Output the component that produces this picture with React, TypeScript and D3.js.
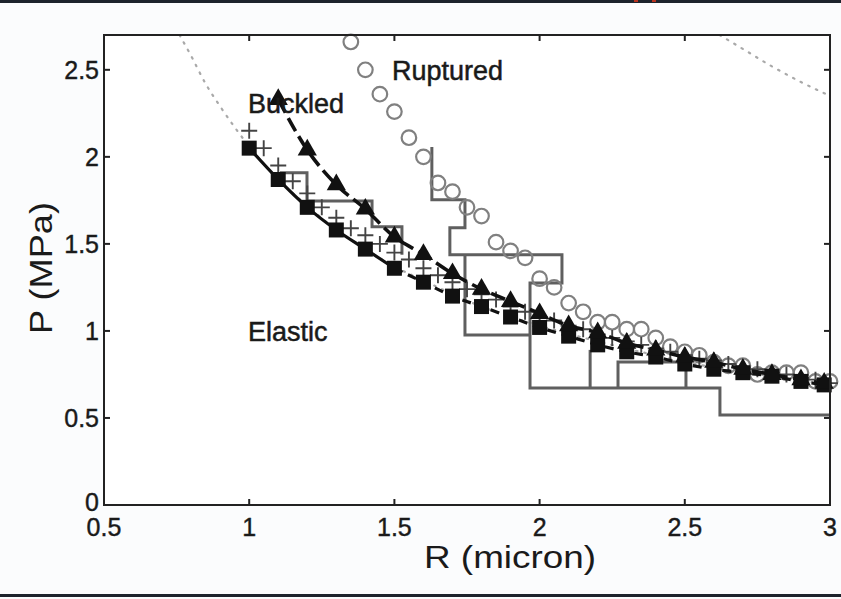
import React, { useEffect, useRef } from 'react';
import * as d3 from 'd3';

// theory curves (dotted grey)
const elasticR = [0.76, 0.8, 0.85, 0.9, 0.95, 1.0, 1.1, 1.2, 1.3, 1.4, 1.5, 1.6, 1.8, 2.0, 2.2, 2.4, 2.6, 2.8, 3.0];
const elasticP = [2.7, 2.58, 2.42, 2.29, 2.17, 2.06, 1.87, 1.72, 1.58, 1.47, 1.37, 1.29, 1.14, 1.03, 0.94, 0.86, 0.79, 0.74, 0.69];
const ruptureR = [2.62, 2.7, 2.8, 2.9, 3.0];
const ruptureP = [2.7, 2.62, 2.52, 2.43, 2.35];

// filled squares
const squareR = [1.0, 1.1, 1.2, 1.3, 1.4, 1.5, 1.6, 1.7, 1.8, 1.9, 2.0, 2.1, 2.2, 2.3, 2.4, 2.5, 2.6, 2.7, 2.8, 2.9, 2.98];
const squareP = [2.05, 1.87, 1.71, 1.58, 1.47, 1.36, 1.28, 1.2, 1.14, 1.08, 1.02, 0.97, 0.92, 0.88, 0.85, 0.81, 0.78, 0.76, 0.74, 0.71, 0.69];
const squareSolidUntil = 1.55;

// filled triangles
const triR = [1.1, 1.2, 1.3, 1.4, 1.5, 1.6, 1.7, 1.8, 1.9, 2.0, 2.1, 2.2, 2.3, 2.4, 2.5, 2.6, 2.7, 2.8, 2.9, 2.98];
const triP = [2.33, 2.04, 1.84, 1.7, 1.54, 1.44, 1.33, 1.24, 1.17, 1.1, 1.03, 0.99, 0.93, 0.89, 0.85, 0.82, 0.78, 0.75, 0.72, 0.7];

// plus markers
const plusR = [1.0, 1.05, 1.1, 1.15, 1.2, 1.25, 1.3, 1.35, 1.4, 1.45, 1.5, 1.55, 1.6, 1.65, 1.7, 1.75, 1.8, 1.85, 1.9, 1.95, 2.0,
  2.05, 2.1, 2.15, 2.2, 2.25, 2.3, 2.35, 2.4, 2.45, 2.5, 2.55, 2.6, 2.65, 2.7, 2.75, 2.8, 2.85, 2.9, 2.95, 3.0];
const plusP = [2.15, 2.05, 1.95, 1.86, 1.79, 1.71, 1.65, 1.59, 1.55, 1.5, 1.45, 1.41, 1.36, 1.32, 1.28, 1.24, 1.21, 1.18, 1.14, 1.11, 1.08,
  1.06, 1.03, 1.01, 0.98, 0.96, 0.94, 0.92, 0.9, 0.88, 0.86, 0.84, 0.83, 0.81, 0.79, 0.78, 0.76, 0.75, 0.73, 0.72, 0.7];

// open circles
const circR = [1.35, 1.4, 1.45, 1.5, 1.55, 1.6, 1.65, 1.7, 1.75, 1.8, 1.85, 1.9, 1.95, 2.0, 2.05, 2.1, 2.15, 2.2, 2.25, 2.3,
  2.35, 2.4, 2.45, 2.5, 2.55, 2.6, 2.65, 2.7, 2.75, 2.8, 2.85, 2.9, 2.95, 3.0];
const circP = [2.66, 2.5, 2.36, 2.26, 2.11, 2.0, 1.85, 1.8, 1.71, 1.66, 1.51, 1.46, 1.42, 1.3, 1.25, 1.16, 1.11, 1.05, 1.05, 1.01,
  1.01, 0.96, 0.91, 0.88, 0.86, 0.82, 0.8, 0.8, 0.75, 0.76, 0.76, 0.76, 0.71, 0.71];

// grey staircases, vertices as [R, P]
const stairs: [number, number][][] = [
  [[1.106, 1.908], [1.199, 1.908], [1.199, 1.747], [1.423, 1.747], [1.423, 1.598], [1.526, 1.598], [1.526, 1.437]],
  [[1.629, 2.057], [1.629, 1.753], [1.743, 1.753], [1.743, 1.592], [1.691, 1.592], [1.691, 1.437], [2.077, 1.437],
    [2.077, 1.276], [1.967, 1.276], [1.967, 0.672], [2.621, 0.672], [2.621, 0.517], [3.0, 0.517]],
  [[1.743, 1.437], [1.743, 0.977], [1.967, 0.977]],
  [[2.174, 0.891], [2.174, 0.672]],
  [[2.27, 0.672], [2.27, 0.822], [2.504, 0.822], [2.504, 0.672]]
];

const xTicks = [0.5, 1, 1.5, 2, 2.5, 3];
const yTicks = [0, 0.5, 1, 1.5, 2, 2.5];

const W = 841;
const H = 599;

export default function App() {
  const ref = useRef<SVGSVGElement>(null);

  useEffect(() => {
    const svg = d3.select(ref.current);
    svg.selectAll('*').remove();

    const x = d3.scaleLinear().domain([0.5, 3]).range([104, 830]);
    const y = d3.scaleLinear().domain([0, 2.7]).range([505, 35]);
    const font = '"Liberation Sans", Arial, Helvetica, sans-serif';

    svg.append('rect').attr('width', W).attr('height', H).attr('fill', '#fbfcfd');
    // screenshot edges
    svg.append('rect').attr('x', 0).attr('y', 0).attr('width', W).attr('height', 3).attr('fill', '#1d232c');
    svg.append('rect').attr('x', 634).attr('y', 0).attr('width', 4).attr('height', 2).attr('fill', '#b8321e');
    svg.append('rect').attr('x', 652).attr('y', 0).attr('width', 4).attr('height', 2).attr('fill', '#b8321e');
    svg.append('rect').attr('x', 0).attr('y', 594).attr('width', W).attr('height', 3).attr('fill', '#1d232c');

    svg.append('defs').append('clipPath').attr('id', 'plotclip')
      .append('rect').attr('x', 104).attr('y', 35).attr('width', 726).attr('height', 470);

    svg.append('rect').attr('x', 104).attr('y', 35).attr('width', 726).attr('height', 470).attr('fill', '#ffffff');

    const line = d3.line<[number, number]>().x(d => x(d[0])).y(d => y(d[1]));
    const zip = (a: number[], b: number[]) => a.map((v, i) => [v, b[i]] as [number, number]);

    const plot = svg.append('g').attr('clip-path', 'url(#plotclip)');

    // dotted theory curves
    [zip(elasticR, elasticP), zip(ruptureR, ruptureP)].forEach(pts => {
      plot.append('path').attr('d', line.curve(d3.curveMonotoneX)(pts)!)
        .attr('fill', 'none').attr('stroke', '#a9a9a9').attr('stroke-width', 2.2)
        .attr('stroke-dasharray', '1.5,7').attr('stroke-linecap', 'round');
    });
    line.curve(d3.curveLinear);

    // staircases
    stairs.forEach(s => {
      svg.append('path').attr('d', line(s)!).attr('fill', 'none')
        .attr('stroke', '#5f5f5f').attr('stroke-width', 3);
    });

    // open circles
    svg.append('g').selectAll('circle').data(zip(circR, circP)).enter().append('circle')
      .attr('cx', d => x(d[0])).attr('cy', d => y(d[1])).attr('r', 7.3)
      .attr('fill', 'none').attr('stroke', '#808080').attr('stroke-width', 2.2);

    // plus markers
    svg.append('g').selectAll('path').data(zip(plusR, plusP)).enter().append('path')
      .attr('d', 'M-8,0H8M0,-8V8')
      .attr('transform', d => `translate(${x(d[0])},${y(d[1])})`)
      .attr('stroke', '#444').attr('stroke-width', 1.9).attr('fill', 'none');

    // square series: solid then dashed
    const sq = zip(squareR, squareP);
    const solid = sq.filter(d => d[0] <= squareSolidUntil);
    const dashed = sq.filter(d => d[0] >= solid[solid.length - 1][0]);
    svg.append('path').attr('d', line.curve(d3.curveMonotoneX)(solid)!)
      .attr('fill', 'none').attr('stroke', '#111').attr('stroke-width', 3.2);
    svg.append('path').attr('d', line(dashed)!)
      .attr('fill', 'none').attr('stroke', '#111').attr('stroke-width', 3.2).attr('stroke-dasharray', '9,6');

    // triangle series
    svg.append('path').attr('d', line(zip(triR, triP))!)
      .attr('fill', 'none').attr('stroke', '#111').attr('stroke-width', 3.6).attr('stroke-dasharray', '15,6');
    line.curve(d3.curveLinear);

    svg.append('g').selectAll('path').data(sq).enter().append('path')
      .attr('d', d3.symbol(d3.symbolSquare, 225)()!)
      .attr('transform', d => `translate(${x(d[0])},${y(d[1])})`)
      .attr('fill', '#111');

    svg.append('g').selectAll('path').data(zip(triR, triP)).enter().append('path')
      .attr('d', d3.symbol(d3.symbolTriangle, 160)()!)
      .attr('transform', d => `translate(${x(d[0])},${y(d[1])})`)
      .attr('fill', '#111');

    // frame with inward ticks
    svg.append('rect').attr('x', 104).attr('y', 35).attr('width', 726).attr('height', 470)
      .attr('fill', 'none').attr('stroke', '#222').attr('stroke-width', 2);
    const axes = svg.append('g').attr('stroke', '#222').attr('stroke-width', 2);
    xTicks.forEach(t => {
      axes.append('line').attr('x1', x(t)).attr('x2', x(t)).attr('y1', 505).attr('y2', 499);
      axes.append('line').attr('x1', x(t)).attr('x2', x(t)).attr('y1', 35).attr('y2', 41);
    });
    yTicks.forEach(t => {
      axes.append('line').attr('x1', 104).attr('x2', 110).attr('y1', y(t)).attr('y2', y(t));
      axes.append('line').attr('x1', 830).attr('x2', 824).attr('y1', y(t)).attr('y2', y(t));
    });

    const txt = svg.append('g').attr('font-family', font).attr('fill', '#1a1a1a');
    xTicks.forEach(t => {
      txt.append('text').attr('x', x(t)).attr('y', 536).attr('text-anchor', 'middle')
        .attr('font-size', 25).attr('stroke', '#1a1a1a').attr('stroke-width', 0.4).text(String(t));
    });
    yTicks.forEach(t => {
      txt.append('text').attr('x', 99).attr('y', y(t) + (t === 0 ? 6 : 9)).attr('text-anchor', 'end')
        .attr('font-size', 25).attr('stroke', '#1a1a1a').attr('stroke-width', 0.4).text(String(t));
    });
    txt.append('text').attr('x', 510).attr('y', 568).attr('text-anchor', 'middle')
      .attr('font-size', 31).attr('textLength', 172).attr('lengthAdjust', 'spacingAndGlyphs')
      .text('R (micron)');
    txt.append('text').attr('transform', 'translate(52,268) rotate(-90)').attr('text-anchor', 'middle')
      .attr('font-size', 31).attr('textLength', 132).attr('lengthAdjust', 'spacingAndGlyphs')
      .text('P (MPa)');

    const label = (s: string, px: number, py: number) =>
      txt.append('text').attr('x', px).attr('y', py).attr('font-size', 27)
        .attr('stroke', '#1a1a1a').attr('stroke-width', 0.5).text(s);
    label('Ruptured', 392, 80);
    label('Buckled', 248, 113);
    label('Elastic', 248, 341);
  }, []);

  return (
    <svg ref={ref} width={W} height={H} style={{ position: 'absolute', left: 0, top: 0 }} />
  );
}
